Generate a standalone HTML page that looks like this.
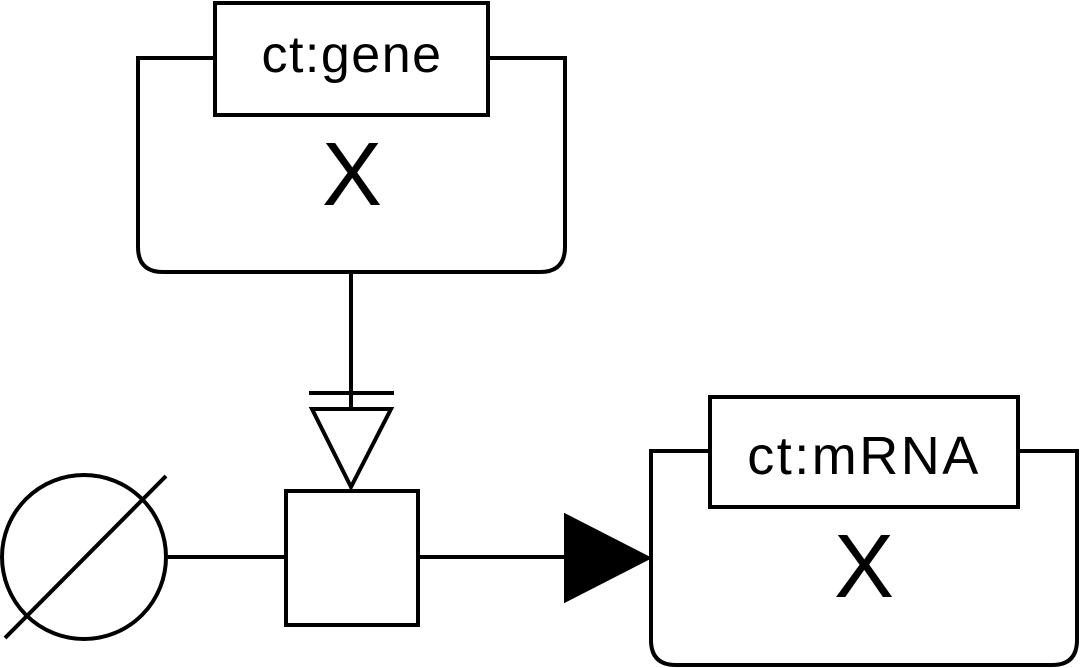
<!DOCTYPE html>
<html><head><meta charset="utf-8"><style>
html,body{margin:0;padding:0;background:#fff;}
svg{display:block;}
text{font-family:"Liberation Sans","DejaVu Sans",sans-serif;fill:#000;}
</style></head><body>
<svg width="1080" height="668" viewBox="0 0 1080 668" xmlns="http://www.w3.org/2000/svg">
<g fill="none" stroke="#000" stroke-width="4">
<path d="M138,58 H565 V247 Q565,272 540,272 H163 Q138,272 138,247 Z" fill="#fff"/>
<rect x="215" y="3" width="273" height="112" fill="#fff"/>
<line x1="351" y1="272" x2="351" y2="409"/>
<line x1="309" y1="393" x2="394" y2="393"/>
<polygon points="312,409 391,409 351,487" fill="#fff"/>
<rect x="286" y="491" width="132" height="134" fill="#fff"/>
<circle cx="84" cy="557" r="82" fill="#fff"/>
<line x1="166" y1="476" x2="5" y2="638"/>
<line x1="168" y1="557" x2="286" y2="557"/>
<line x1="418" y1="557" x2="570" y2="557"/>
<polygon points="566,516 566,600 648,558" fill="#000"/>
<path d="M651,451 H1077 V640 Q1077,665 1052,665 H676 Q651,665 651,640 Z" fill="#fff"/>
<rect x="710" y="397" width="308" height="110" fill="#fff"/>
</g>
<text x="352" y="72" font-size="52" letter-spacing="1.5" text-anchor="middle">ct:gene</text>
<text x="352" y="205" font-size="90" text-anchor="middle">X</text>
<text x="864" y="474" font-size="54" letter-spacing="2.5" text-anchor="middle">ct:mRNA</text>
<text x="864" y="597" font-size="90" text-anchor="middle">X</text>
</svg>
</body></html>
